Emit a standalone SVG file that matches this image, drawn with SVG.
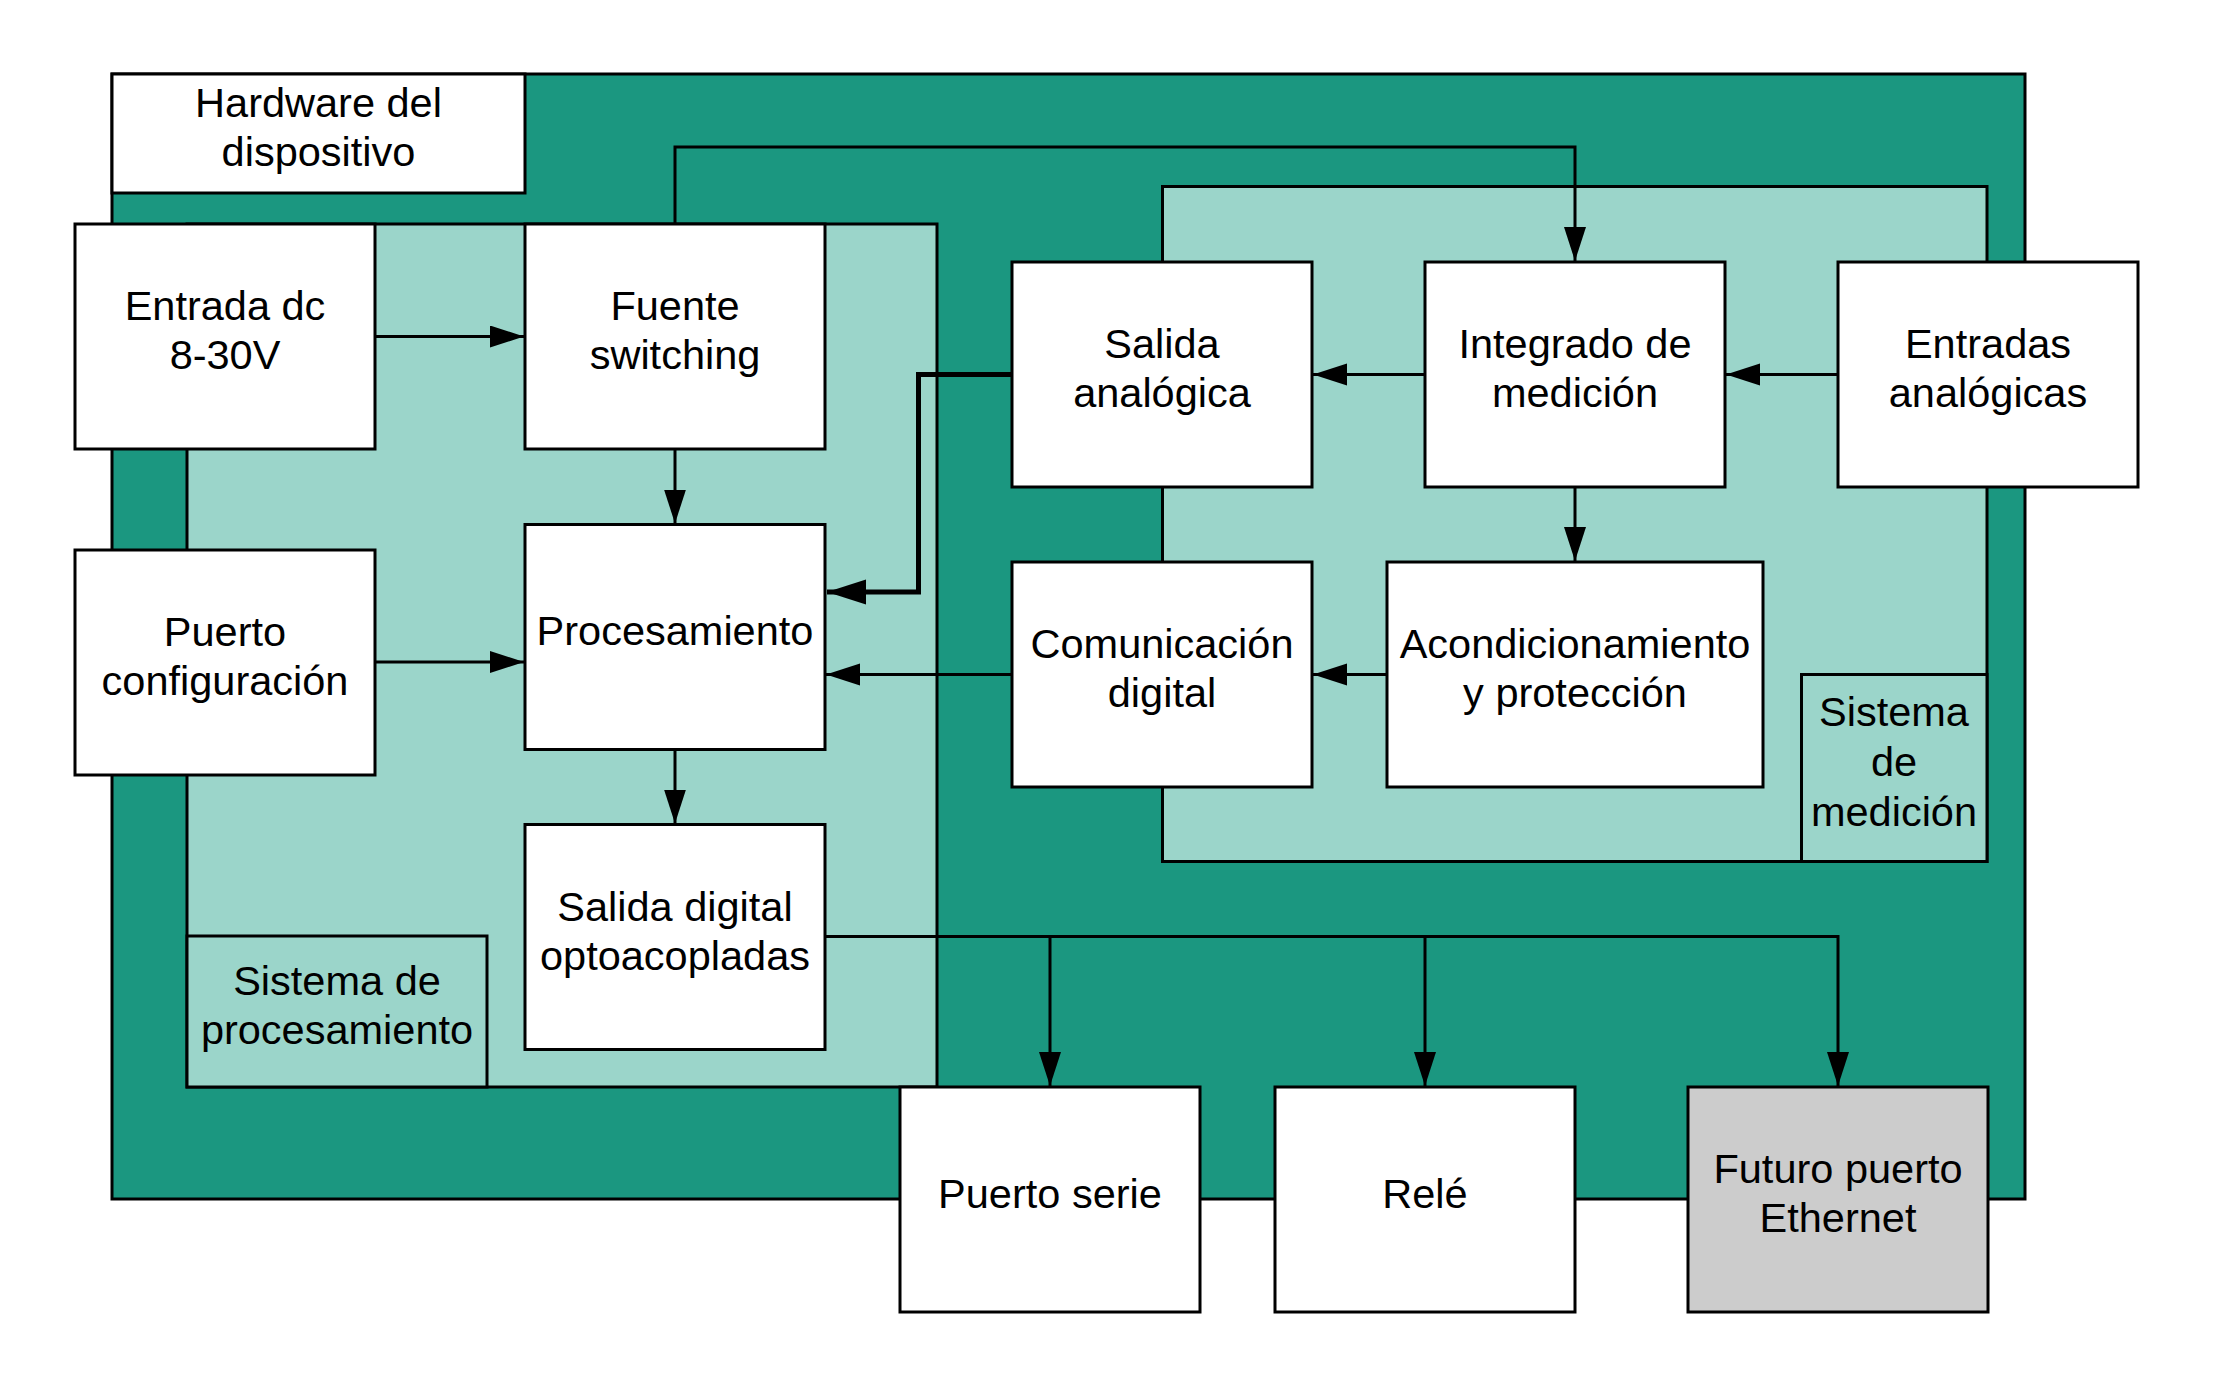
<svg xmlns="http://www.w3.org/2000/svg" width="2213" height="1388" viewBox="0 0 2213 1388">
<style>
.bg{fill:#ffffff}
.outer{fill:#1b9780;stroke:#000;stroke-width:3}
.cont{fill:#9bd5ca;stroke:#000;stroke-width:3}
.box{fill:#ffffff;stroke:#000;stroke-width:3}
.gray{fill:#cccccc;stroke:#000;stroke-width:3}
.lbl{fill:#9bd5ca;stroke:#000;stroke-width:3}
.t{font-family:"Liberation Sans",Arial,sans-serif;font-size:41.5px;fill:#000;text-anchor:middle}
.c{fill:none;stroke:#000;stroke-width:3}
.ck{fill:none;stroke:#000;stroke-width:5}
</style>
<defs>
<marker id="arr" markerUnits="userSpaceOnUse" markerWidth="36" markerHeight="24" refX="34" refY="11" orient="auto">
<path d="M0,0 L34,11 L0,22 z" fill="#000"/>
</marker>
<marker id="arrk" markerUnits="userSpaceOnUse" markerWidth="42" markerHeight="28" refX="39" refY="12.5" orient="auto">
<path d="M0,0 L39,12.5 L0,25 z" fill="#000"/>
</marker>
</defs>
<rect class="bg" x="0" y="0" width="2213" height="1388"/>

<g id="hardware">
<rect class="outer" x="112" y="74" width="1913" height="1125"/>
<rect class="box" x="112" y="74" width="413" height="119"/>
<text class="t" x="318.5" y="117">Hardware del</text>
<text class="t" x="318.5" y="166.3">dispositivo</text>
</g>

<g id="sistema-procesamiento">
<rect class="cont" x="187" y="224" width="750" height="863"/>
<rect class="lbl" x="187" y="936" width="300" height="151"/>
<text class="t" x="337" y="995">Sistema de</text>
<text class="t" x="337" y="1044.3">procesamiento</text>
</g>

<g id="sistema-medicion">
<rect class="cont" x="1162.5" y="186.5" width="824.5" height="675"/>
<rect class="lbl" x="1801.5" y="674.5" width="185.5" height="187"/>
<text class="t" x="1894" y="726">Sistema</text>
<text class="t" x="1894" y="776">de</text>
<text class="t" x="1894" y="826">medición</text>
</g>

<g id="connectors">
<line class="c" x1="375" y1="336.5" x2="524" y2="336.5" marker-end="url(#arr)"/>
<line class="c" x1="675" y1="449" x2="675" y2="523.5" marker-end="url(#arr)"/>
<line class="c" x1="375" y1="662" x2="524" y2="662" marker-end="url(#arr)"/>
<line class="c" x1="675" y1="749.5" x2="675" y2="823.5" marker-end="url(#arr)"/>
<polyline class="c" points="675,224 675,147 1575,147 1575,261" marker-end="url(#arr)"/>
<line class="c" x1="1425" y1="374.5" x2="1313" y2="374.5" marker-end="url(#arr)"/>
<line class="c" x1="1838" y1="374.5" x2="1726" y2="374.5" marker-end="url(#arr)"/>
<line class="c" x1="1575" y1="487" x2="1575" y2="561" marker-end="url(#arr)"/>
<line class="c" x1="1387" y1="674.5" x2="1313" y2="674.5" marker-end="url(#arr)"/>
<line class="c" x1="1012" y1="674.5" x2="826" y2="674.5" marker-end="url(#arr)"/>
<polyline class="ck" points="1012,374.5 918.5,374.5 918.5,592 827,592" marker-end="url(#arrk)"/>
<polyline class="c" points="825,936.5 1838,936.5 1838,1086" marker-end="url(#arr)"/>
<line class="c" x1="1050" y1="936.5" x2="1050" y2="1086" marker-end="url(#arr)"/>
<line class="c" x1="1425" y1="936.5" x2="1425" y2="1086" marker-end="url(#arr)"/>
</g>

<g id="entrada-dc">
<rect class="box" x="75" y="224" width="300" height="225"/>
<text class="t" x="225" y="320">Entrada dc</text>
<text class="t" x="225" y="369.3">8-30V</text>
</g>
<g id="fuente-switching">
<rect class="box" x="525" y="224" width="300" height="225"/>
<text class="t" x="675" y="320">Fuente</text>
<text class="t" x="675" y="369.3">switching</text>
</g>
<g id="puerto-configuracion">
<rect class="box" x="75" y="550" width="300" height="225"/>
<text class="t" x="225" y="646">Puerto</text>
<text class="t" x="225" y="695.3">configuración</text>
</g>
<g id="procesamiento">
<rect class="box" x="525" y="524.5" width="300" height="225"/>
<text class="t" x="675" y="645">Procesamiento</text>
</g>
<g id="salida-digital">
<rect class="box" x="525" y="824.5" width="300" height="225"/>
<text class="t" x="675" y="920.5">Salida digital</text>
<text class="t" x="675" y="969.8">optoacopladas</text>
</g>
<g id="salida-analogica">
<rect class="box" x="1012" y="262" width="300" height="225"/>
<text class="t" x="1162" y="358">Salida</text>
<text class="t" x="1162" y="407.3">analógica</text>
</g>
<g id="integrado-medicion">
<rect class="box" x="1425" y="262" width="300" height="225"/>
<text class="t" x="1575" y="358">Integrado de</text>
<text class="t" x="1575" y="407.3">medición</text>
</g>
<g id="entradas-analogicas">
<rect class="box" x="1838" y="262" width="300" height="225"/>
<text class="t" x="1988" y="358">Entradas</text>
<text class="t" x="1988" y="407.3">analógicas</text>
</g>
<g id="comunicacion-digital">
<rect class="box" x="1012" y="562" width="300" height="225"/>
<text class="t" x="1162" y="658">Comunicación</text>
<text class="t" x="1162" y="707.3">digital</text>
</g>
<g id="acondicionamiento">
<rect class="box" x="1387" y="562" width="376" height="225"/>
<text class="t" x="1575" y="658">Acondicionamiento</text>
<text class="t" x="1575" y="707.3">y protección</text>
</g>
<g id="puerto-serie">
<rect class="box" x="900" y="1087" width="300" height="225"/>
<text class="t" x="1050" y="1207.5">Puerto serie</text>
</g>
<g id="rele">
<rect class="box" x="1275" y="1087" width="300" height="225"/>
<text class="t" x="1425" y="1207.5">Relé</text>
</g>
<g id="futuro-ethernet">
<rect class="gray" x="1688" y="1087" width="300" height="225"/>
<text class="t" x="1838" y="1183">Futuro puerto</text>
<text class="t" x="1838" y="1232.3">Ethernet</text>
</g>
</svg>
